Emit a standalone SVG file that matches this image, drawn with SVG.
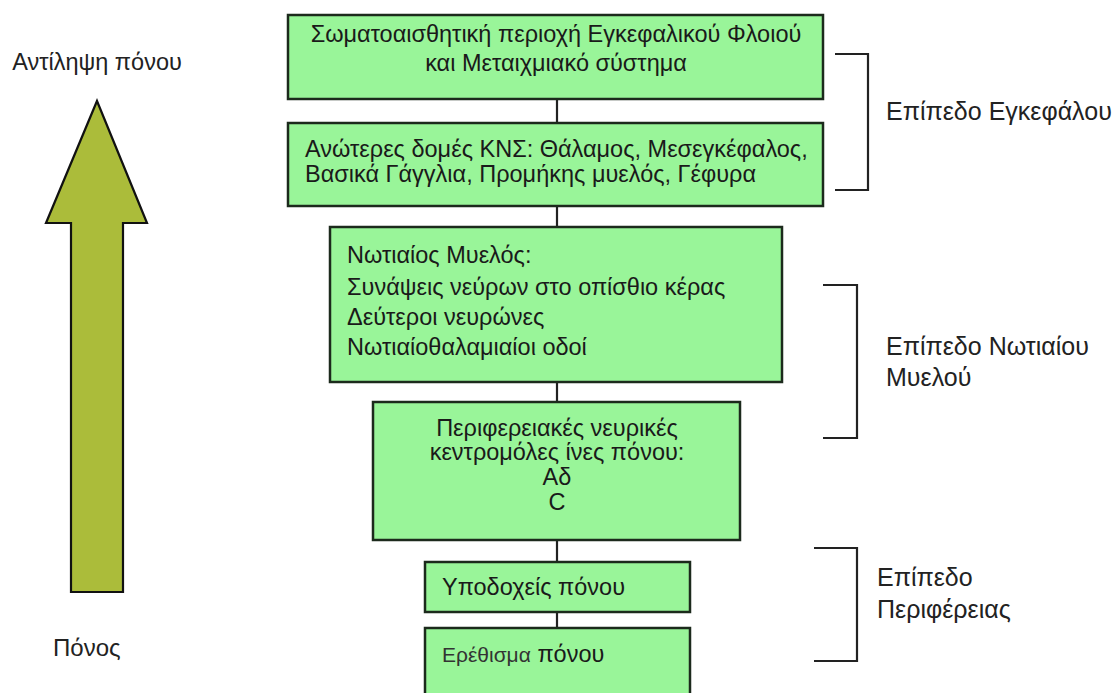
<svg xmlns="http://www.w3.org/2000/svg" width="1119" height="693" viewBox="0 0 1119 693">
<style>
.box{fill:#99F599;stroke:#1c2a1c;stroke-width:2.5}
.t{font-family:"Liberation Sans",Arial,sans-serif;font-size:23.5px;fill:#1a1a1a}
.lbl{font-family:"Liberation Sans",Arial,sans-serif;font-size:25px;fill:#222}
.side{font-family:"Liberation Sans",Arial,sans-serif;fill:#222}
.br{fill:none;stroke:#222;stroke-width:2.2}
.con{stroke:#222;stroke-width:2.2}
</style>
<rect width="1119" height="693" fill="#ffffff"/>
<g id="arrow">
<polygon points="97,101 147,223 123,223 123,592 71,592 71,223 46,223" fill="#ABBC3A" stroke="#111" stroke-width="2.2" stroke-linejoin="miter"/>
</g>
<g id="label-top"><text class="side" x="97" y="70" style="font-size:23.5px" text-anchor="middle">Αντίληψη πόνου</text></g>
<g id="label-bottom"><text class="side" x="53" y="656" style="font-size:24px">Πόνος</text></g>
<g id="connectors">
<line class="con" x1="557" y1="99" x2="557" y2="123"/>
<line class="con" x1="557" y1="206" x2="557" y2="227"/>
<line class="con" x1="557" y1="382" x2="557" y2="402"/>
<line class="con" x1="557" y1="540" x2="557" y2="562"/>
<line class="con" x1="557" y1="612" x2="557" y2="628"/>
</g>
<g id="node-cortex">
<rect class="box" x="288" y="15" width="535" height="84"/>
<text class="t" x="556" y="42" text-anchor="middle">Σωματοαισθητική περιοχή Εγκεφαλικού Φλοιού</text>
<text class="t" x="556" y="71" text-anchor="middle">και Μεταιχμιακό σύστημα</text>
</g>
<g id="node-cns">
<rect class="box" x="288" y="123" width="535" height="83"/>
<text class="t" x="305" y="157">Ανώτερες δομές ΚΝΣ: Θάλαμος, Μεσεγκέφαλος,</text>
<text class="t" x="305" y="182">Βασικά Γάγγλια, Προμήκης μυελός, Γέφυρα</text>
</g>
<g id="node-spinal">
<rect class="box" x="330" y="227" width="452" height="155"/>
<text class="t" x="347" y="263">Νωτιαίος Μυελός:</text>
<text class="t" x="347" y="295">Συνάψεις νεύρων στο οπίσθιο κέρας</text>
<text class="t" x="347" y="325">Δεύτεροι νευρώνες</text>
<text class="t" x="347" y="355">Νωτιαίοθαλαμιαίοι οδοί</text>
</g>
<g id="node-fibers">
<rect class="box" x="373" y="402" width="367" height="138"/>
<text class="t" x="557" y="436" text-anchor="middle">Περιφερειακές νευρικές</text>
<text class="t" x="557" y="460" text-anchor="middle">κεντρομόλες ίνες πόνου:</text>
<text class="t" x="557" y="485" text-anchor="middle">Αδ</text>
<text class="t" x="557" y="510" text-anchor="middle">C</text>
</g>
<g id="node-receptors">
<rect class="box" x="425" y="562" width="265" height="50"/>
<text class="t" x="442" y="595">Υποδοχείς πόνου</text>
</g>
<g id="node-stimulus">
<rect class="box" x="425" y="628" width="265" height="75"/>
<text class="t" x="442" y="662"><tspan font-size="21" fill="#333">Ερέθισμα</tspan> πόνου</text>
</g>
<g id="bracket-brain">
<polyline class="br" points="835,54 868,54 868,190 835,190"/>
<text class="lbl" x="886" y="120">Επίπεδο Εγκεφάλου</text>
</g>
<g id="bracket-spinal">
<polyline class="br" points="823,285 857,285 857,438 823,438"/>
<text class="lbl" x="886" y="355">Επίπεδο Νωτιαίου</text>
<text class="lbl" x="886" y="386">Μυελού</text>
</g>
<g id="bracket-periphery">
<polyline class="br" points="814,548 857,548 857,661 814,661"/>
<text class="lbl" x="877" y="586">Επίπεδο</text>
<text class="lbl" x="877" y="618">Περιφέρειας</text>
</g>
</svg>
